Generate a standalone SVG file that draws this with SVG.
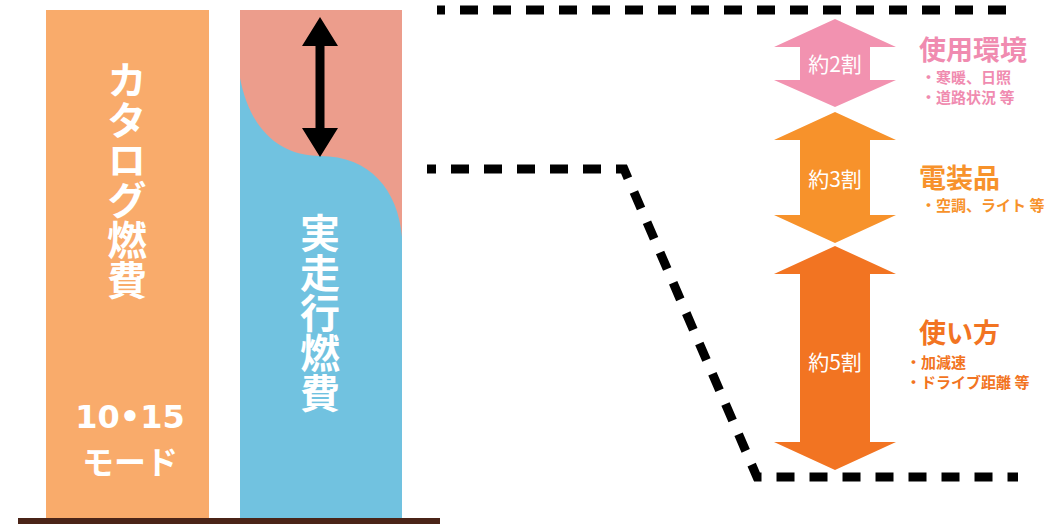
<svg xmlns="http://www.w3.org/2000/svg" width="1064" height="524" viewBox="0 0 1064 524">
<defs>
<style>
.jp{font-family:"Noto Sans CJK JP","Noto Sans",sans-serif;font-weight:bold}
.vert{writing-mode:vertical-rl;text-orientation:upright;fill:#fff;font-size:40px}
.dash{fill:none;stroke:#000;stroke-width:9;stroke-dasharray:18 15}
.lbl{fill:#fff;font-size:21px;font-weight:normal;text-anchor:middle}
</style>
</defs>
<rect width="1064" height="524" fill="#fff"/>
<g id="catalog">
<rect x="46" y="10" width="163" height="508" fill="#F9AB6B"/>
<text class="jp vert" x="127" y="60">カタログ燃費</text>
<text x="130" y="428" font-family="'DejaVu Sans',sans-serif" font-weight="bold" font-size="32" fill="#fff" text-anchor="middle">10•15</text>
<text class="jp" x="130" y="474" font-size="32" fill="#fff" text-anchor="middle">モード</text>
</g>
<g id="actual">
<rect x="240" y="10" width="162" height="508" fill="#EC9D8C"/>
<path d="M240,78 C250,130 280,156 320,156 C370,156 398,190 402,237 L402,518 L240,518 Z" fill="#71C2E0"/>
<path d="M320,17 L338,46 L324.5,46 L324.5,128 L338,128 L320,157 L302,128 L315.5,128 L315.5,46 L302,46 Z" fill="#000"/>
<text class="jp vert" x="320" y="213">実走行燃費</text>
</g>
<rect id="baseline" x="18" y="518" width="422" height="6" fill="#4A2418"/>
<g id="connectors">
<line class="dash" x1="437" y1="10" x2="1018" y2="10" stroke-dashoffset="10"/>
<polyline class="dash" points="427,169 624,169 757,477 1018,477" stroke-dashoffset="9"/>
</g>
<g id="env">
<path d="M835,19 L896,47 L870,47 L870,80 L896,80 L835,107 L774,80 L800,80 L800,47 L774,47 Z" fill="#F292B0"/>
<text class="jp lbl" x="835" y="72">約2割</text>
<text class="jp" x="919" y="60" font-size="27" fill="#F08BB0">使用環境</text>
<text class="jp" x="921" y="83" font-size="15" fill="#F08BB0">・寒暖、日照</text>
<text class="jp" x="921" y="103" font-size="15" fill="#F08BB0">・道路状況 等</text>
</g>
<g id="electric">
<path d="M835,112 L896,140 L870,140 L870,215 L896,215 L835,243 L774,215 L800,215 L800,140 L774,140 Z" fill="#F7922B"/>
<text class="jp lbl" x="835" y="187">約3割</text>
<text class="jp" x="919" y="188" font-size="27" fill="#F7922B">電装品</text>
<text class="jp" x="921" y="211" font-size="15" fill="#F7922B">・空調、ライト 等</text>
</g>
<g id="usage">
<path d="M835,246 L896,274 L870,274 L870,442 L896,442 L835,470 L774,442 L800,442 L800,274 L774,274 Z" fill="#F27422"/>
<text class="jp lbl" x="835" y="370">約5割</text>
<text class="jp" x="919" y="343" font-size="27" fill="#F27422">使い方</text>
<text class="jp" x="906" y="368" font-size="15" fill="#F27422">・加減速</text>
<text class="jp" x="906" y="388" font-size="15" fill="#F27422">・ドライブ距離 等</text>
</g>
</svg>
